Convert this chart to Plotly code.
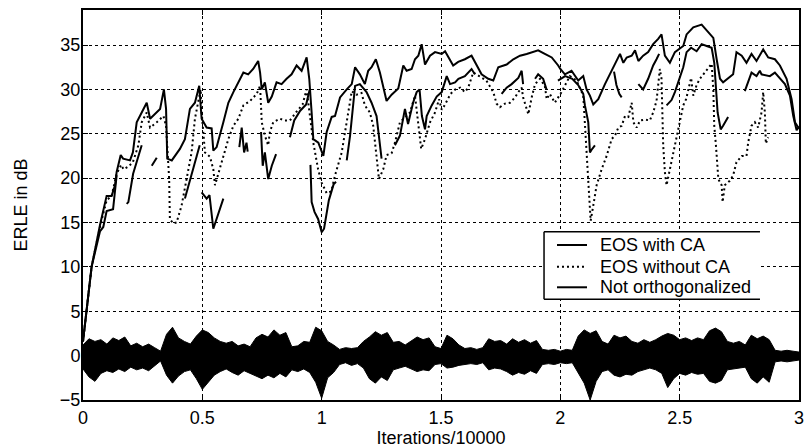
import plotly.graph_objects as go

FONT = "Liberation Sans, Arial, Helvetica, sans-serif"

# ---------------- data ----------------
x_ticks = [0, 0.5, 1, 1.5, 2, 2.5, 3]
x_ticktext = ["0", "0.5", "1", "1.5", "2", "2.5", "3"]
y_ticks = [-5, 0, 5, 10, 15, 20, 25, 30, 35]
y_ticktext = ["\u22125", "0", "5", "10", "15", "20", "25", "30", "35"]

legend_labels = ["EOS with CA", "EOS without CA", "Not orthogonalized"]

eos_ca = [(0, 1.6), (0.018, 6), (0.036, 10), (0.071, 14.7), (0.099, 18), (0.12, 18), (0.134, 19.2),
          (0.141, 20.7), (0.158, 22.6), (0.168, 22.2), (0.197, 22), (0.209, 22.9), (0.225, 26.3),
          (0.246, 27.4), (0.267, 28.5), (0.281, 26.7), (0.302, 27.3), (0.323, 27.8), (0.339, 30),
          (0.348, 27.8), (0.353, 22.2), (0.372, 22), (0.406, 23.3), (0.427, 24.4), (0.448, 27.8),
          (0.469, 28.5), (0.487, 30.4), (0.497, 26.7), (0.518, 25.7), (0.539, 25.6), (0.546, 23.1),
          (0.56, 23.5), (0.588, 26.3), (0.609, 28.5), (0.63, 29.7), (0.658, 31.2), (0.672, 31.9),
          (0.692, 31.7), (0.713, 32.3), (0.734, 33.2), (0.742, 31.9), (0.749, 30), (0.762, 30.8),
          (0.776, 28.5), (0.791, 29.2), (0.811, 30.8), (0.832, 30.6), (0.853, 31.2), (0.874, 31.7),
          (0.895, 32.7), (0.916, 32.1), (0.937, 33.6), (0.948, 31.2), (0.958, 27.4), (0.965, 24.4),
          (0.986, 24), (1.0, 22.9), (1.007, 22.5), (1.021, 25.2), (1.042, 26.9), (1.056, 27),
          (1.077, 29.1), (1.105, 30), (1.126, 30.6), (1.14, 32.5), (1.16, 31.7), (1.181, 30.6),
          (1.195, 32.1), (1.209, 32.5), (1.227, 33.4), (1.244, 31.9), (1.258, 30.4), (1.272, 28.7),
          (1.293, 29.4), (1.321, 30.1), (1.342, 32.7), (1.356, 32.1), (1.377, 32.3), (1.391, 33.4),
          (1.405, 33.8), (1.419, 35.1), (1.433, 32.8), (1.454, 33.8), (1.475, 34.2), (1.503, 34),
          (1.517, 34.3), (1.538, 33.4), (1.551, 32.7), (1.572, 33.1), (1.6, 33.4), (1.628, 33.8),
          (1.649, 32.7), (1.67, 31.7), (1.698, 31.2), (1.719, 31), (1.74, 32.5), (1.775, 32.8),
          (1.803, 33.4), (1.831, 33.8), (1.859, 34), (1.886, 34.2), (1.907, 34.4), (1.935, 34),
          (1.964, 33.6), (1.991, 32.7), (2.0, 32.3), (2.019, 31.7), (2.047, 32.1), (2.075, 31),
          (2.096, 31.5), (2.11, 30), (2.124, 29.3), (2.138, 28.3), (2.159, 28.9), (2.187, 30.6),
          (2.208, 31.7), (2.229, 32.8), (2.25, 34), (2.264, 33), (2.278, 33.6), (2.299, 33.8),
          (2.313, 34.4), (2.327, 33.2), (2.347, 33.8), (2.368, 34.2), (2.389, 35.1), (2.41, 35.7),
          (2.424, 36.2), (2.438, 33.8), (2.459, 33), (2.48, 34.2), (2.515, 34.9), (2.529, 36.2),
          (2.557, 37), (2.592, 37.3), (2.62, 36.4), (2.641, 35.8), (2.655, 33.4), (2.669, 31.2),
          (2.682, 30.8), (2.703, 31.2), (2.724, 31.7), (2.738, 34.2), (2.76, 33.8), (2.78, 33),
          (2.801, 34), (2.822, 33.2), (2.85, 34.5), (2.871, 33.6), (2.899, 33.4), (2.92, 32.7),
          (2.948, 31.2), (2.969, 28.9), (2.983, 26.3), (3.0, 25.6)]

eos_no_ca = [(0, 1.6), (0.018, 6), (0.036, 10), (0.071, 14.5), (0.099, 17.5), (0.12, 18), (0.141, 20.5),
             (0.16, 21.5), (0.17, 21), (0.19, 21.3), (0.209, 21.8), (0.232, 23.7), (0.246, 26.3),
             (0.267, 27.4), (0.281, 25.7), (0.309, 26.3), (0.337, 27), (0.348, 25.9), (0.353, 23.7),
             (0.361, 19.9), (0.364, 15.4), (0.378, 14.9), (0.392, 15), (0.413, 16.9), (0.434, 19.9),
             (0.455, 22.9), (0.469, 26.7), (0.483, 28.5), (0.493, 30), (0.497, 27.5), (0.511, 22.9),
             (0.532, 22.4), (0.546, 21), (0.553, 19.2), (0.567, 20.5), (0.588, 22.4), (0.609, 24.4),
             (0.63, 25.9), (0.651, 26.7), (0.672, 28.2), (0.7, 28.7), (0.728, 29.5), (0.742, 30.4),
             (0.749, 26.3), (0.762, 24.8), (0.776, 23.7), (0.783, 25.2), (0.797, 26.3), (0.825, 26.7),
             (0.846, 26.5), (0.867, 26.5), (0.895, 27.5), (0.92, 28.3), (0.937, 30), (0.95, 27.4),
             (0.965, 24), (0.985, 21), (1.0, 19.5), (1.021, 18.3), (1.04, 18.5), (1.056, 20.3),
             (1.084, 22.9), (1.098, 25.2), (1.112, 27.4), (1.126, 29.8), (1.146, 29.4), (1.167, 29.6),
             (1.181, 28.2), (1.202, 27.4), (1.216, 25.9), (1.23, 22.6), (1.24, 19.9), (1.258, 21),
             (1.272, 22.6), (1.293, 22.8), (1.307, 24), (1.328, 26.3), (1.349, 26.9), (1.37, 27.4),
             (1.391, 29.3), (1.408, 25.5), (1.417, 23.3), (1.433, 24.4), (1.454, 26.3), (1.475, 27.4),
             (1.492, 28.9), (1.503, 27.7), (1.517, 28.3), (1.54, 29.5), (1.56, 30), (1.58, 30.2),
             (1.6, 29.7), (1.614, 30.2), (1.628, 31.5), (1.635, 31.9), (1.66, 31.5), (1.69, 31),
             (1.719, 29.7), (1.733, 28.4), (1.747, 28), (1.768, 28.4), (1.789, 28.5), (1.81, 29.1),
             (1.824, 29.7), (1.838, 30.2), (1.844, 29.1), (1.859, 27.8), (1.866, 27.2), (1.88, 29.1),
             (1.894, 30.6), (1.915, 31.2), (1.935, 30.4), (1.943, 28.9), (1.956, 29.5), (1.977, 28.5),
             (2.005, 29.7), (2.04, 31.5), (2.068, 31), (2.096, 29.3), (2.11, 22.5), (2.117, 19.9),
             (2.124, 16.9), (2.127, 15.2), (2.138, 16.9), (2.152, 19.2), (2.173, 21), (2.194, 22.5),
             (2.215, 24.4), (2.229, 24.8), (2.243, 25.7), (2.257, 25.9), (2.271, 27), (2.285, 26.9),
             (2.299, 28.5), (2.306, 26.3), (2.32, 25.7), (2.334, 26.5), (2.355, 26.6), (2.375, 26.5),
             (2.389, 27.4), (2.403, 28.7), (2.417, 32.3), (2.424, 31.2), (2.431, 23.7), (2.438, 20.7),
             (2.445, 19.2), (2.459, 21), (2.48, 23.7), (2.494, 25.9), (2.515, 28.2), (2.527, 28.9),
             (2.548, 31.3), (2.557, 29.3), (2.571, 30.5), (2.585, 31.2), (2.606, 31.9), (2.627, 32.7),
             (2.634, 32.9), (2.641, 30), (2.645, 25.9), (2.652, 23.7), (2.662, 19.9), (2.676, 19.2),
             (2.68, 17.3), (2.689, 19.2), (2.71, 19.7), (2.724, 20.3), (2.738, 21.8), (2.76, 22.5),
             (2.78, 22.5), (2.787, 24), (2.801, 25.9), (2.815, 26.3), (2.829, 25.7), (2.843, 27.4),
             (2.85, 29.7), (2.857, 27.4), (2.861, 23.9), (2.871, 24.6)]

# "Not orthogonalized": fragmented curve, one list per visible piece
not_orth_segments = [
    [(0, 1.6), (0.018, 6), (0.036, 10), (0.071, 14), (0.085, 14.5), (0.099, 16.3), (0.126, 16.5), (0.141, 20.3)],
    [(0.183, 17.1), (0.19, 17.3), (0.21, 20.5), (0.246, 23.7)],
    [(0.288, 21.4), (0.3, 22), (0.309, 22.3)],
    [(0.427, 17.7), (0.45, 20), (0.475, 22.5), (0.489, 23.7)],
    [(0.497, 18.4), (0.518, 17.7), (0.53, 18.1), (0.546, 14.3), (0.588, 17.7)],
    [(0.655, 23.5), (0.665, 25.7), (0.675, 22.9), (0.685, 24), (0.69, 23)],
    [(0.746, 25.2), (0.753, 21.4), (0.762, 22.9), (0.776, 19.9), (0.791, 21.4), (0.809, 22.7)],
    [(0.867, 24.6), (0.885, 26.5), (0.91, 27.6), (0.935, 28.3), (0.95, 30)],
    [(0.953, 21.5), (0.958, 17.3), (0.97, 16.2), (0.985, 15.4), (1.0, 13.9), (1.01, 14.3), (1.03, 17.5),
     (1.05, 19.3), (1.06, 19.6)],
    [(1.105, 22), (1.119, 24.8), (1.14, 30.4), (1.16, 30.6), (1.188, 29.7), (1.209, 28.5), (1.23, 27),
     (1.244, 23.3), (1.251, 22.2)],
    [(1.307, 23.7), (1.328, 24.8), (1.349, 27.8), (1.362, 26.1), (1.383, 28.5), (1.398, 29.7), (1.41, 30),
     (1.42, 27), (1.433, 25.5), (1.44, 27), (1.461, 28.2), (1.482, 29.2), (1.503, 29.7), (1.524, 31.5),
     (1.538, 30.6), (1.559, 30.8), (1.573, 31.2), (1.6, 31.5), (1.628, 32.3), (1.642, 31.7)],
    [(1.754, 29.5), (1.775, 30.2), (1.796, 30.6), (1.824, 31.3), (1.838, 32.1), (1.844, 30.6)],
    [(1.894, 31.2), (1.907, 31.7), (1.928, 31.2), (1.942, 30)],
    [(1.99, 31), (2.02, 31.5), (2.05, 31.2), (2.075, 30.5), (2.096, 29.5), (2.103, 28.2), (2.117, 26.3),
     (2.124, 22.9), (2.131, 23.2), (2.145, 23.7)],
    [(2.225, 32), (2.235, 30.5), (2.247, 29.5), (2.257, 29.1)],
    [(2.327, 30.6), (2.347, 30), (2.368, 31.2), (2.389, 32.7), (2.403, 33.4), (2.414, 34)],
    [(2.445, 28.2), (2.466, 28.8), (2.48, 29.7), (2.5, 31.2), (2.515, 32.5), (2.529, 34.2), (2.548, 34.7),
     (2.571, 34.3), (2.592, 35.1), (2.613, 34.9), (2.634, 34.7), (2.645, 33), (2.652, 30), (2.659, 27.4),
     (2.672, 25.5), (2.682, 25.9), (2.703, 26.9)],
    [(2.773, 29.8), (2.79, 31), (2.801, 31.9), (2.822, 31.5), (2.836, 32.1), (2.843, 31.7), (2.878, 31.5),
     (2.899, 31.9), (2.92, 31.2), (2.941, 30.6), (2.962, 29.3), (2.976, 27), (2.99, 25.4), (3.0, 25.8)],
]

# speech signal band near 0 dB: upper / lower envelope sampled every 0.025
speech_step = 0.025
speech_upper = [1.2, 1.9, 1.6, 1.8, 1.3, 2.0, 1.7, 2.1, 1.1, 1.4, 1.0, 1.3, 0.9, 0.5, 2.4, 3.2, 2.0, 1.6, 1.3, 2.2,
                2.9, 2.6, 2.0, 1.6, 1.4, 1.6, 1.1, 1.3, 1.0, 2.0, 2.4, 2.1, 2.9, 2.3, 2.6, 1.0, 1.1, 1.6, 1.5, 3.2,
                2.8, 1.6, 1.2, 0.7, 0.9, 0.8, 0.9, 1.6, 2.1, 2.7, 2.3, 2.6, 1.5, 1.6, 1.2, 1.7, 2.1, 1.8, 2.0, 1.0,
                0.8, 2.3, 1.9, 1.2, 0.8, 0.9, 0.7, 0.9, 1.9, 1.6, 1.7, 1.3, 1.9, 1.5, 1.8, 1.4, 1.7, 0.7, 0.6, 0.7,
                0.5, 0.7, 0.6, 2.2, 2.9, 2.5, 2.8, 1.6, 1.3, 2.3, 2.0, 2.2, 1.6, 1.4, 1.8, 1.5, 1.8, 2.2, 2.5, 2.3,
                1.8, 2.0, 1.7, 2.0, 1.8, 2.8, 3.1, 2.7, 1.6, 1.4, 1.6, 1.2, 2.3, 1.9, 2.2, 1.8, 0.6, 0.5, 0.6, 0.5,
                0.4]
speech_lower = [-1.5, -2.4, -2.9, -2.0, -1.7, -1.9, -1.5, -1.8, -1.3, -1.6, -1.4, -1.7, -1.2, -0.6, -2.2, -3.1,
                -2.3, -1.8, -1.6, -2.6, -3.8, -3.0, -2.2, -1.8, -1.5, -1.9, -2.2, -1.7, -2.0, -2.3, -2.6, -2.2,
                -2.5, -2.0, -2.4, -1.6, -1.8, -1.5, -1.9, -3.0, -4.8, -2.5, -1.9, -1.0, -0.8, -1.1, -0.9, -1.4,
                -2.6, -3.1, -2.4, -2.8, -1.6, -1.4, -1.2, -1.5, -1.8, -1.6, -1.7, -1.0, -0.9, -1.4, -1.3, -1.1,
                -1.0, -0.9, -1.0, -0.8, -1.6, -1.4, -1.5, -1.8, -2.2, -1.9, -2.1, -1.7, -2.0, -1.0, -0.9, -1.0,
                -0.8, -0.9, -0.8, -2.0, -3.1, -5.0, -2.9, -1.8, -1.6, -2.2, -2.4, -2.1, -2.2, -1.8, -1.6, -1.4,
                -1.6, -2.0, -3.6, -2.6, -2.0, -2.2, -1.9, -2.1, -2.0, -2.9, -3.1, -2.8, -1.6, -1.5, -1.4, -1.3,
                -2.6, -3.1, -2.4, -3.0, -0.7, -0.6, -0.7, -0.6, -0.5]
assert len(speech_upper) == len(speech_lower)

# ---------------- figure ----------------
def unzip(pairs):
    return [p[0] for p in pairs], [p[1] for p in pairs]

fig = go.Figure()

sx = [round(i * speech_step, 4) for i in range(len(speech_upper))]
fig.add_trace(go.Scatter(
    x=sx + sx[::-1], y=speech_upper + speech_lower[::-1],
    mode="lines", fill="toself", fillcolor="black",
    line=dict(color="black", width=1), showlegend=False, hoverinfo="skip"))

nx, ny = [], []
for seg in not_orth_segments:
    a, b = unzip(seg)
    nx += a + [None]
    ny += b + [None]

DOT = "2px,3px"
dx, dy = unzip(eos_no_ca)
fig.add_trace(go.Scatter(x=dx, y=dy, mode="lines", name=legend_labels[1], showlegend=False,
                         line=dict(color="black", width=2, dash=DOT)))
fig.add_trace(go.Scatter(x=nx, y=ny, mode="lines", name=legend_labels[2], showlegend=False,
                         connectgaps=False, line=dict(color="black", width=2)))
cx, cy = unzip(eos_ca)
fig.add_trace(go.Scatter(x=cx, y=cy, mode="lines", name=legend_labels[0], showlegend=False,
                         line=dict(color="black", width=2)))

axis_common = dict(showgrid=True, gridcolor="black", gridwidth=1, griddash="3px,3px",
                   ticks="inside", ticklen=5, tickwidth=1, tickcolor="black",
                   showline=True, linecolor="black", linewidth=2, mirror="ticks",
                   zeroline=False, ticklabeloverflow="allow",
                   tickfont=dict(size=18, color="black", family=FONT))

# hand-drawn legend box (the reference box has no right border)
lx0, lx1, ly0, ly1 = 0.6439, 0.9455, 0.2582, 0.4315
row_y = [0.3974, 0.3418, 0.2890]
row_dash = ["solid", DOT, "solid"]
shapes = [
    dict(type="rect", xref="paper", yref="paper", x0=lx0, x1=lx1, y0=ly0, y1=ly1,
         fillcolor="white", line=dict(width=0), layer="above"),
    dict(type="line", xref="paper", yref="paper", x0=lx0, x1=lx1, y0=ly1, y1=ly1,
         line=dict(color="black", width=1.5), layer="above"),
    dict(type="line", xref="paper", yref="paper", x0=lx0, x1=lx1, y0=ly0, y1=ly0,
         line=dict(color="black", width=1.5), layer="above"),
    dict(type="line", xref="paper", yref="paper", x0=lx0, x1=lx0, y0=ly0, y1=ly1,
         line=dict(color="black", width=1.5), layer="above"),
]
annotations = []
for lab, yy, ds in zip(legend_labels, row_y, row_dash):
    shapes.append(dict(type="line", xref="paper", yref="paper", x0=0.662, x1=0.7039, y0=yy, y1=yy,
                       line=dict(color="black", width=2, dash=ds), layer="above"))
    annotations.append(dict(text=lab, xref="paper", yref="paper", x=0.7193, y=yy, xanchor="left",
                            yanchor="middle", showarrow=False,
                            font=dict(size=18, family=FONT, color="black")))

fig.update_layout(
    width=806, height=448,
    margin=dict(l=83, r=7, t=10, b=48, autoexpand=False),
    paper_bgcolor="white", plot_bgcolor="white",
    font=dict(family=FONT, size=18, color="black"),
    showlegend=False,
    xaxis=dict(range=[0, 3], tickvals=x_ticks, ticktext=x_ticktext,
               title=dict(text="Iterations/10000", standoff=8, font=dict(size=18)), **axis_common),
    yaxis=dict(range=[-5, 38.95], tickvals=y_ticks, ticktext=y_ticktext, ticklabelstandoff=-3,
               title=dict(text="ERLE in dB", standoff=28, font=dict(size=18)), **axis_common),
    shapes=shapes,
    annotations=annotations,
)

# remove the browser's default 8px body margin so the 806x448 figure fills the window
fig.write_html("out.html", config={"displayModeBar": False},
               post_script="document.body.style.margin='0';document.body.style.overflow='hidden';")
